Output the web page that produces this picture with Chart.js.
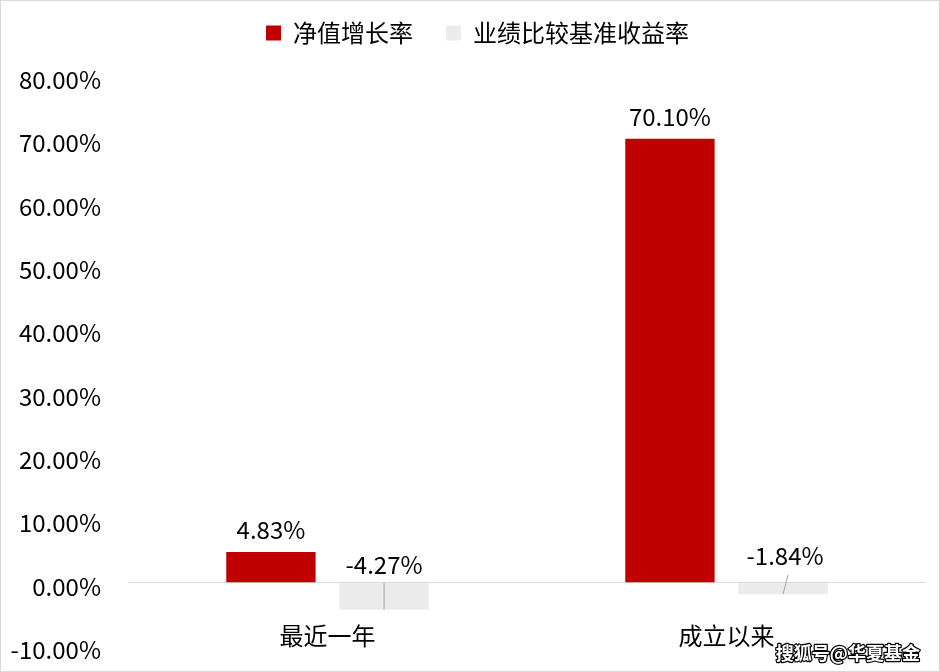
<!DOCTYPE html>
<html>
<head>
<meta charset="utf-8">
<script src="https://cdn.jsdelivr.net/npm/chart.js@4.4.1/dist/chart.umd.min.js"></script>
<style>
    html, body { margin: 0; padding: 0; background: #fff; }
    .frame {
        width: 940px;
        height: 672px;
        box-sizing: border-box;
        border: 1px solid #d9d9d9;
        position: relative;
    }
    .frame canvas { display: block; }
</style>
</head>
<body>
<div class="frame">
    <canvas id="chart" width="938" height="670"></canvas>
</div>
<script>
const categories = ['最近一年', '成立以来'];
const navGrowth = [4.83, 70.10];
const benchmarkReturn = [-4.27, -1.84];
const seriesNames = ['净值增长率', '业绩比较基准收益率'];
const yTicks = [-10, 0, 10, 20, 30, 40, 50, 60, 70, 80];

const FONT = '"Noto Sans CJK SC", "Noto Sans", sans-serif';
const RED = '#c00000';
const GREY = '#ebebeb';

// nudges for the small negative labels (they sit above the axis in the original)
const negLabelLift = [18, 27];
const negLabelShiftX = [0, 2];

// the legend sits in a fixed band above the plot, centred a little right of the page
const legendBand = {
    id: 'legendBand',
    beforeInit(chart) {
        const legend = chart.legend;
        const fit = legend.fit;
        legend.fit = function () {
            fit.call(this);
            this.height = 88;
        };
    },
    afterLayout(chart) {
        chart.legend.left += 14;
        chart.legend.right += 14;
    }
};

const valueLabels = {
    id: 'valueLabels',
    afterDatasetsDraw(chart) {
        const ctx = chart.ctx;
        const yScale = chart.scales.y;
        const zero = yScale.getPixelForValue(0);
        ctx.save();
        ctx.font = '24px ' + FONT;
        ctx.textAlign = 'center';
        ctx.textBaseline = 'middle';
        ctx.fillStyle = '#000';
        chart.data.datasets.forEach((ds, di) => {
            const meta = chart.getDatasetMeta(di);
            meta.data.forEach((bar, i) => {
                const v = ds.data[i];
                const text = v.toFixed(2) + '%';
                if (v >= 0) {
                    ctx.fillText(text, bar.x, bar.y - 22);
                } else {
                    const lx = bar.x + negLabelShiftX[i];
                    const ly = zero - negLabelLift[i];
                    ctx.strokeStyle = '#a6a6a6';
                    ctx.lineWidth = 1;
                    ctx.beginPath();
                    if (ly + 19 < zero - 2) {
                        ctx.moveTo(lx + 3, ly + 19);
                    } else {
                        ctx.moveTo(lx, zero);
                    }
                    ctx.lineTo(bar.x, bar.y);
                    ctx.stroke();
                    ctx.fillText(text, lx, ly);
                }
            });
        });

        // category labels hang just under the zero line
        const xScale = chart.scales.x;
        categories.forEach((c, i) => {
            ctx.fillText(c, xScale.getPixelForValue(i), zero + 53);
        });

        // watermark
        ctx.font = 'bold 18px ' + FONT;
        ctx.textAlign = 'right';
        ctx.textBaseline = 'bottom';
        ctx.lineJoin = 'round';
        ctx.lineWidth = 2.5;
        ctx.strokeStyle = '#000';
        ctx.strokeText('搜狐号@华夏基金', chart.width - 19, chart.height - 9);
        ctx.fillStyle = '#fff';
        ctx.fillText('搜狐号@华夏基金', chart.width - 19, chart.height - 9);
        ctx.restore();
    }
};

new Chart(document.getElementById('chart'), {
    type: 'bar',
    data: {
        labels: categories,
        datasets: [
            {
                label: seriesNames[0],
                data: navGrowth,
                backgroundColor: RED,
                barPercentage: 0.79,
                categoryPercentage: 0.567
            },
            {
                label: seriesNames[1],
                data: benchmarkReturn,
                backgroundColor: GREY,
                barPercentage: 0.79,
                categoryPercentage: 0.567
            }
        ]
    },
    options: {
        responsive: false,
        animation: false,
        layout: {
            padding: { left: 0, right: 13, top: -13, bottom: 25 }
        },
        plugins: {
            legend: {
                position: 'top',
                labels: {
                    font: { family: FONT, size: 24 },
                    color: '#000',
                    boxWidth: 15,
                    boxHeight: 15,
                    padding: 33
                }
            },
            tooltip: { enabled: false }
        },
        scales: {
            x: {
                display: false
            },
            y: {
                min: yTicks[0],
                max: yTicks[yTicks.length - 1],
                afterBuildTicks: scale => {
                    scale.ticks = yTicks.map(v => ({ value: v }));
                },
                afterFit: scale => {
                    scale.width = 127;
                    scale.paddingTop = 0;
                    scale.paddingBottom = 0;
                },
                border: { display: false },
                grid: {
                    drawTicks: false,
                    color: c => c.tick && c.tick.value === 0 ? '#d9d9d9' : 'rgba(0,0,0,0)'
                },
                ticks: {
                    padding: 27,
                    labelOffset: 4,
                    color: '#000',
                    font: { family: FONT, size: 24 },
                    callback: v => v.toFixed(2) + '%'
                }
            }
        }
    },
    plugins: [legendBand, valueLabels]
});
</script>
</body>
</html>
